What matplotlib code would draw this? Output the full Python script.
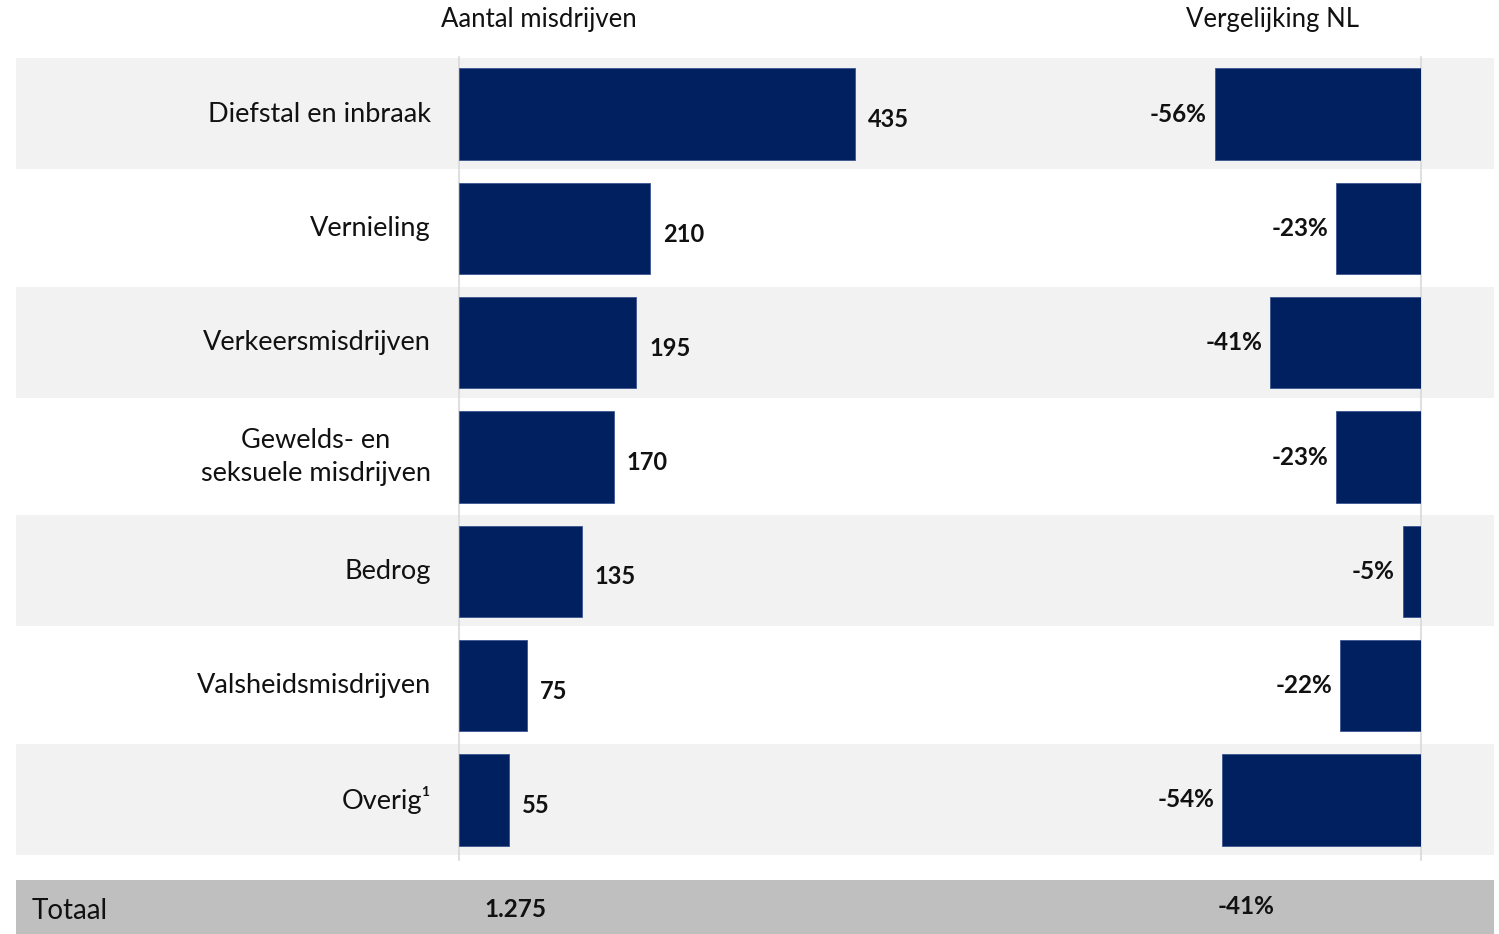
import matplotlib
import matplotlib.pyplot as plt

matplotlib.use('agg')
plt.rcParams['font.family'] = ['Lato', 'DejaVu Sans']

# data
categories = ['Diefstal en inbraak', 'Vernieling', 'Verkeersmisdrijven',
              'Gewelds- en\nseksuele misdrijven', 'Bedrog',
              'Valsheidsmisdrijven', 'Overig\u00b9']
counts = [435, 210, 195, 170, 135, 75, 55]
count_labels = ['435', '210', '195', '170', '135', '75', '55']
compare_nl = [-56, -23, -41, -23, -5, -22, -54]
total_count = '1.275'
total_compare = '-41%'

navy = '#002060'
band = '#f2f2f2'
W, H = 1499, 934

fig = plt.figure(figsize=(W / 100, H / 100), dpi=100)

# vertical extent of the rows (pixels from top)
top_px, bot_px = 57, 857
bottom = 1 - bot_px / H
height = (bot_px - top_px) / H
n = len(categories)
ypos = list(range(n))

# background bands
ax_bg = fig.add_axes([16 / W, bottom, 1478 / W, height])
ax_bg.set_xlim(0, 1)
ax_bg.set_ylim(n - 0.5, -0.5)
for i in ypos:
    if i % 2 == 0:
        ax_bg.axhspan(i - 0.49, i + 0.48, color=band, lw=0)
ax_bg.axis('off')

# left panel: counts
ax1 = fig.add_axes([459 / W, bottom, 541 / W, height])
ax1.patch.set_alpha(0)
ax1.barh(ypos, counts, height=0.8, color=navy, edgecolor='#3a5590', linewidth=0.6, zorder=3)
ax1.set_xlim(0, 541 / 0.91)
ax1.set_ylim(n - 0.5, -0.5)
ax1.axvline(0, ymin=-0.004, ymax=1, color='#d9d9d9', lw=1.2, clip_on=False, zorder=2)
for y, v, lab in zip(ypos, counts, count_labels):
    ax1.text(v + 14, y + 0.05, lab, ha='left', va='center', fontsize=17,
             fontweight='bold', color='#111111')
ax1.axis('off')

# category labels
for y, cat in zip(ypos, categories):
    ax1.text(-28 / 0.91, y, cat, ha='right', va='center', fontsize=19.5,
             multialignment='center', color='#111111', linespacing=1.4)

# right panel: comparison with NL
ax2 = fig.add_axes([1050 / W, bottom, 371 / W, height])
ax2.patch.set_alpha(0)
ax2.barh(ypos, compare_nl, height=0.8, color=navy, edgecolor='#3a5590', linewidth=0.6, zorder=3)
ax2.set_xlim(-371 / 3.68, 0)
ax2.set_ylim(n - 0.5, -0.5)
ax2.axvline(0, ymin=-0.004, ymax=1, color='#d9d9d9', lw=1.2, clip_on=False, zorder=2)
for y, v in zip(ypos, compare_nl):
    ax2.text(v - 2.2, y, f'{v}%', ha='right', va='center', fontsize=17.5,
             fontweight='bold', color='#111111')
ax2.axis('off')

# column headers
fig.text(539 / W, 1 - 20 / H, 'Aantal misdrijven', ha='center', va='center',
         fontsize=18.5, color='#111111')
fig.text(1273 / W, 1 - 20 / H, 'Vergelijking NL', ha='center', va='center',
         fontsize=18.5, color='#111111')

# total row
ax_tot = fig.add_axes([16 / W, 0, 1478 / W, 54 / H])
ax_tot.set_facecolor('#bfbfbf')
ax_tot.set_xticks([])
ax_tot.set_yticks([])
for s in ax_tot.spines.values():
    s.set_visible(False)
ax_tot.text(16 / 1478, 0.42, 'Totaal', ha='left', va='center', fontsize=20,
            color='#111111', transform=ax_tot.transAxes)
ax_tot.text((515 - 16) / 1478, 0.45, total_count, ha='center', va='center',
            fontsize=17.5, fontweight='bold', color='#111111', transform=ax_tot.transAxes)
ax_tot.text((1246 - 16) / 1478, 0.5, total_compare, ha='center', va='center',
            fontsize=17.5, fontweight='bold', color='#111111', transform=ax_tot.transAxes)

fig.savefig('out.png', dpi=100, facecolor='white')
plt.close()
